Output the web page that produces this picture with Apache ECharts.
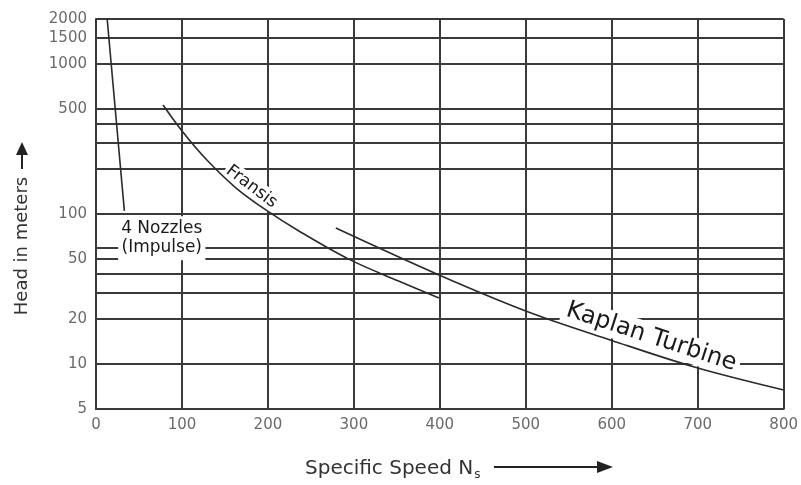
<!DOCTYPE html>
<html><head><meta charset="utf-8">
<script src="https://cdn.jsdelivr.net/npm/echarts@6/dist/echarts.min.js"></script>
<style>html,body{margin:0;padding:0;background:#fff}#c{width:801px;height:485px}</style>
</head><body><div id="c"></div>
<script>
// ---- data ----
const xMin = 0, xMax = 800, xStep = 100;
const yLabelValues = [5, 10, 20, 50, 100, 500, 1000, 1500, 2000];
const yGridValues = [5, 10, 20, 30, 40, 50, 60, 100, 200, 300, 400, 500, 1000, 1500, 2000];
const impulseCurve = [[13, 2000], [33, 105]];
const francisCurve = [[78, 533], [101, 352], [129, 229], [163, 149], [198, 106], [236, 77], [294, 50], [352, 35.7], [399, 27.5]];
const kaplanCurve = [[279, 80.6], [399, 39.2], [503, 22.2], [599, 14.4], [697, 9.5], [800, 6.7]];
const noteTexts = ['4 Nozzles\n(Impulse)', 'Fransis', 'Kaplan Turbine'];
const notePoints = [[76.5, 69], [181, 152], [646, 15.1]];

const FONT = 'DejaVu Sans';
const GRID = '#3a3a3a';
const chart = echarts.init(document.getElementById('c'), null, {renderer: 'canvas'});

const noteStyles = [
  {fontSize: 17, lineHeight: 19, rotate: 0, padding: [3, 3, 3, 3]},
  {fontSize: 17, lineHeight: 20, rotate: -37, padding: [0, 2, 0, 2]},
  {fontSize: 24, lineHeight: 27, rotate: -18, padding: [0, 4, 0, 4]}
];

const lineSeries = (name, data) => ({
  name, type: 'line', data, showSymbol: false, symbol: 'none',
  smooth: name === 'Impulse' ? false : 0.35,
  lineStyle: {color: '#2b2b2b', width: 1.6}, z: 5, silent: true
});

chart.setOption({
  animation: false,
  backgroundColor: '#fff',
  grid: {left: 96, right: 15, top: 19, bottom: 76, containLabel: false},
  xAxis: {
    type: 'value', min: xMin, max: xMax, interval: xStep,
    axisLine: {show: true, lineStyle: {color: GRID, width: 2}},
    axisTick: {show: false},
    axisLabel: {color: '#6a6a6a', fontSize: 15, fontFamily: FONT, margin: 9},
    splitLine: {show: true, lineStyle: {color: GRID, width: 2}}
  },
  yAxis: {
    type: 'log', logBase: 10, min: 5, max: 2000,
    axisLine: {show: true, lineStyle: {color: GRID, width: 2}},
    axisTick: {show: false, customValues: yGridValues},
    axisLabel: {customValues: yLabelValues, color: '#6a6a6a', fontSize: 15, fontFamily: FONT, margin: 9,
      formatter: v => String(Math.round(v))},
    splitLine: {show: true, lineStyle: {color: GRID, width: 2}}
  },
  series: [
    lineSeries('Impulse', impulseCurve),
    lineSeries('Francis', francisCurve),
    lineSeries('Kaplan', kaplanCurve),
    {
      type: 'scatter', silent: true, symbolSize: 0.1, itemStyle: {color: 'rgba(0,0,0,0)'}, z: 4,
      data: notePoints.map((p, i) => ({
        value: p,
        label: {
          show: true, position: 'inside', formatter: noteTexts[i],
          fontFamily: FONT, color: '#1a1a1a', opacity: 1, backgroundColor: '#fff',
          fontSize: noteStyles[i].fontSize, lineHeight: noteStyles[i].lineHeight,
          rotate: noteStyles[i].rotate, padding: noteStyles[i].padding, align: 'center'
        }
      }))
    }
  ],
  graphic: [
    {type: 'text', x: 22, y: 246, rotation: Math.PI / 2,
     style: {text: 'Head in meters', font: '18px "DejaVu Sans"', fill: '#333', align: 'center', verticalAlign: 'middle'}},
    {type: 'line', shape: {x1: 22, y1: 169, x2: 22, y2: 152}, style: {stroke: '#222', lineWidth: 2}},
    {type: 'polygon', shape: {points: [[16, 155], [28, 155], [22, 142]]}, style: {fill: '#222'}},
    {type: 'text', x: 305, y: 469,
     style: {text: '{a|Specific Speed N}{b|s}', align: 'left', verticalAlign: 'middle', fill: '#333',
       rich: {a: {fontSize: 20, fontFamily: FONT, fill: '#333', lineHeight: 24},
              b: {fontSize: 12, fontFamily: FONT, fill: '#333', padding: [12, 0, 0, 1]}}}},
    {type: 'line', shape: {x1: 494, y1: 467, x2: 600, y2: 467}, style: {stroke: '#222', lineWidth: 2}},
    {type: 'polygon', shape: {points: [[597, 461], [597, 473], [613, 467]]}, style: {fill: '#222'}}
  ]
});
</script></body></html>
